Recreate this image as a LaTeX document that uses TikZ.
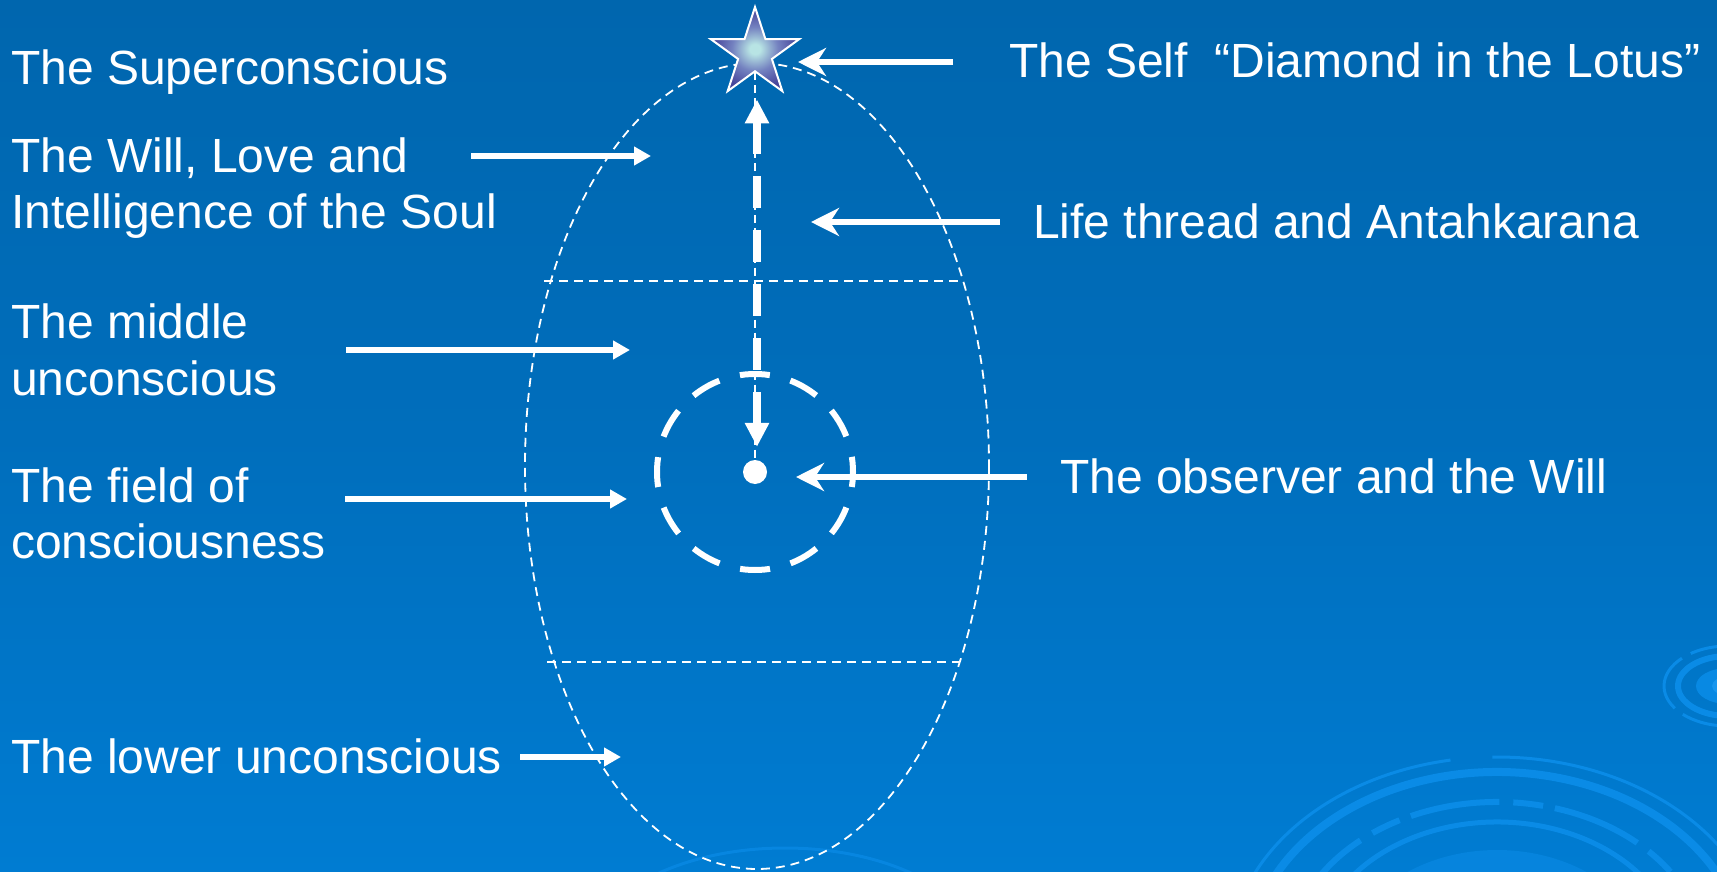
\documentclass[tikz,border=0pt]{standalone}
\usepackage{fontspec}
\setmainfont{Liberation Sans}
\usetikzlibrary{arrows.meta,shapes.geometric}
\definecolor{bgtop}{HTML}{0066AE}
\definecolor{bgmid}{HTML}{006EBC}
\definecolor{bgbot}{HTML}{007CD2}
\definecolor{ripple}{HTML}{0A8BE6}
\definecolor{ripplehi}{HTML}{1896EE}
\definecolor{starin}{HTML}{B8E4E4}
\definecolor{starmid}{HTML}{7482C0}
\definecolor{starout}{HTML}{46449A}
\pgfdeclareradialshading{starshade}{\pgfpoint{0bp}{0bp}}{color(0bp)=(starin); color(3bp)=(starin); color(13bp)=(starmid); color(24bp)=(starout); color(50bp)=(starout)}
\begin{document}
\begin{tikzpicture}[x=1pt,y=-1pt,
  lbl/.style={text=white,inner sep=0pt,anchor=base west,font=\fontsize{48}{56}\selectfont},
  rarr/.style={white,line width=6.5pt,-{Triangle[length=17pt,width=18pt]}},
  larr/.style={white,line width=6.5pt,-{Stealth[length=28pt,width=28pt,inset=9pt]}},
  thindash/.style={white,line width=1.8pt,dash pattern=on 9pt off 6pt},
  ring/.style={ripple,line width=#1},
]
% background
\fill[top color=bgtop,bottom color=bgbot,middle color=bgmid] (0,0) rectangle (1717,872);
\useasboundingbox (0,0) rectangle (1717,872);
\begin{scope}
\clip (0,0) rectangle (1717,872);
% big ripple bottom right
\fill[ripple!55!bgbot] (1497,975) ellipse [x radius=158, y radius=125];
\fill[ripple!80!bgbot] (1497,985) ellipse [x radius=120, y radius=95];
\draw[ring=3pt] ([shift={(205:268 and 203)}]1497,960) arc[start angle=205,end angle=260,x radius=268,y radius=203];
\draw[ring=3pt] ([shift={(269:268 and 203)}]1497,960) arc[start angle=269,end angle=335,x radius=268,y radius=203];
\draw[ring=8pt] ([shift={(195:248 and 188)}]1497,960) arc[start angle=195,end angle=345,x radius=248,y radius=188];
\draw[ring=6pt,dash pattern=on 90pt off 14pt on 30pt off 12pt] ([shift={(200:209 and 158)}]1497,960) arc[start angle=200,end angle=340,x radius=209,y radius=158];
\draw[ring=5pt] ([shift={(200:182 and 138)}]1497,960) arc[start angle=200,end angle=340,x radius=182,y radius=138];
% bottom centre faint ripple
\draw[ring=3pt,ripple!70!bgbot] (785,960) ellipse [x radius=200, y radius=112];
% right edge ripple
\draw[ring=3pt,dash pattern=on 60pt off 10pt] (1728,686) ellipse [x radius=64, y radius=40];
\draw[ring=6pt] (1728,686) ellipse [x radius=50, y radius=30];
\fill[ripple!85!bgbot] (1728,686) ellipse [x radius=32, y radius=18];
\fill[ripplehi] (1730,686) ellipse [x radius=18, y radius=10];
\end{scope}
% egg of the psyche
\draw[thindash] (757,466) ellipse [x radius=232, y radius=403];
\draw[thindash] (544,281) -- (961,281);
\draw[thindash] (547,662) -- (960,662);
% star and observer
\node[star, star points=5, star point ratio=2.618, minimum size=93pt, inner sep=0pt, draw=white, line width=2pt, shading=starshade] (self) at (755,53.5) {};
\node[circle, fill=white, minimum size=24pt, inner sep=0pt] (obs) at (755,472) {};
\draw[white, line width=6pt, dash pattern=on 30pt off 21.3pt, dash phase=15pt] (obs.center) circle[radius=98];
\draw[white,line width=1.5pt,dash pattern=on 8pt off 5pt] (self.south) -- (obs.center);
\draw[white, line width=8pt, dash pattern=on 32pt off 22pt, {Triangle[length=24pt,width=23pt]}-{Triangle[length=24pt,width=23pt]}, shorten <=27pt, shorten >=13pt] ([xshift=2pt]self.south) -- ([xshift=2pt]obs.north);
% labels
\node[lbl] (sup) at (11,85) {The Superconscious};
\node[lbl] (will1) at (11,172) {The Will, Love and};
\node[lbl] (will2) at (11,228) {Intelligence of the Soul};
\node[lbl] (mid1) at (11,338) {The middle};
\node[lbl] (mid2) at (11,395) {unconscious};
\node[lbl] (fld1) at (11,502) {The field of};
\node[lbl] (fld2) at (11,558) {consciousness};
\node[lbl] (low) at (11,773) {The lower unconscious};
\node[lbl] (selft) at (1009,78) {The Self\ \ “Diamond in the Lotus”};
\node[lbl] (life) at (1033,238) {Life thread and Antahkarana};
\node[lbl] (obst) at (1060,493) {The observer and the Will};
% arrow end points
\coordinate (willA) at (471,156); \coordinate (willB) at (651,156);
\coordinate (midA) at (346,350); \coordinate (midB) at (630,350);
\coordinate (fldA) at (345,499); \coordinate (fldB) at (627,499);
\coordinate (lowA) at (520,757); \coordinate (lowB) at (621,757);
\coordinate (selfA) at (953,62); \coordinate (selfB) at (798,62);
\coordinate (lifeA) at (1000,222); \coordinate (lifeB) at (811,222);
\coordinate (obsA) at (1027,477); \coordinate (obsB) at (796,477);
\draw[rarr] (willA) -- (willB);
\draw[rarr] (midA) -- (midB);
\draw[rarr] (fldA) -- (fldB);
\draw[rarr] (lowA) -- (lowB);
\draw[larr] (selfA) -- (selfB);
\draw[larr] (lifeA) -- (lifeB);
\draw[larr] (obsA) -- (obsB);
\end{tikzpicture}
\end{document}
